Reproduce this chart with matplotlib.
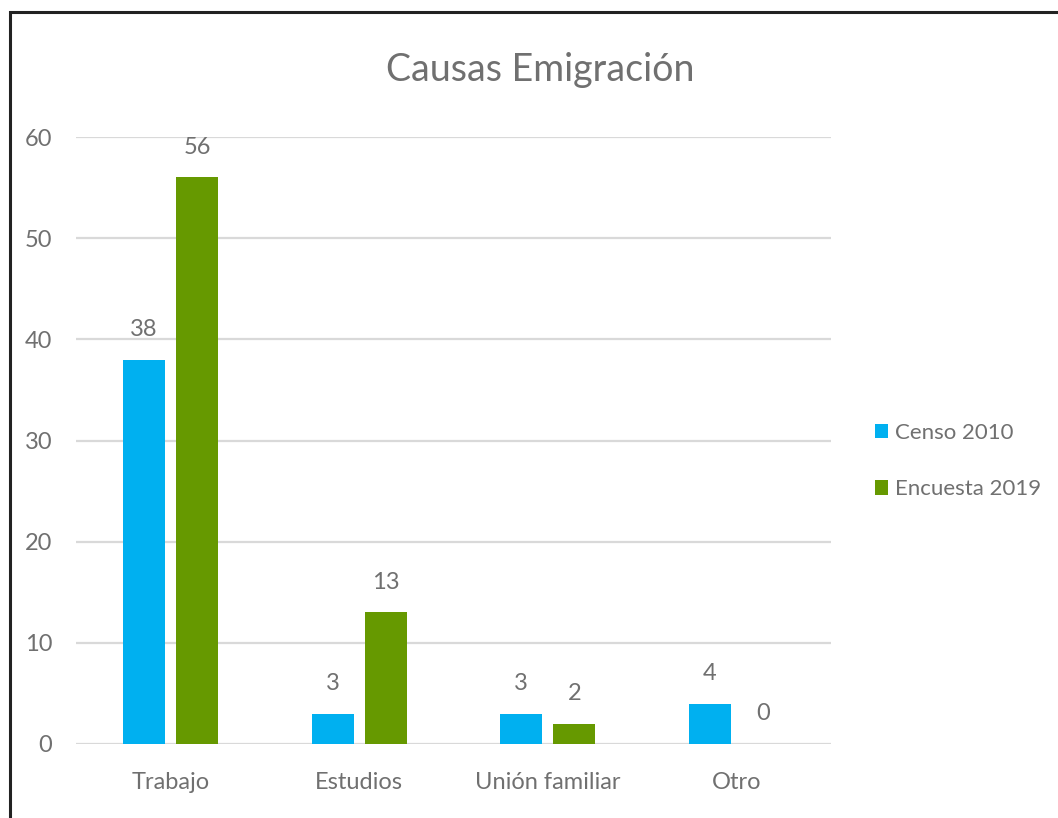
"""
Causas de emigración: Censo 2010 vs Encuesta 2019.
"""

import numpy as np
import matplotlib
matplotlib.use('Agg')
import matplotlib.pyplot as plt
from matplotlib.patches import Rectangle

categories = ['Trabajo', 'Estudios', 'Unión familiar', 'Otro']
censo_2010 = [38, 3, 3, 4]
encuesta_2019 = [56, 13, 2, 0]
series_names = ['Censo 2010', 'Encuesta 2019']
y_ticks = [0, 10, 20, 30, 40, 50, 60]

COLOR_CENSO = '#00B0F0'
COLOR_ENCUESTA = '#669900'
TEXT_GRAY = '#707070'
GRID_GRAY = '#D9D9D9'

plt.rcParams['font.family'] = ['Lato', 'DejaVu Sans']

fig = plt.figure(figsize=(10.58, 8.18), dpi=100)
ax = fig.add_axes([76 / 1058, 74 / 818, 755 / 1058, 607 / 818])

x = np.arange(len(categories))
width = 0.2225
offset = 0.141

bars1 = ax.bar(x - offset, censo_2010, width, color=COLOR_CENSO, label=series_names[0], zorder=3)
bars2 = ax.bar(x + offset, encuesta_2019, width, color=COLOR_ENCUESTA, label=series_names[1], zorder=3)

# data labels above each bar
for bars, vals in [(bars1, censo_2010), (bars2, encuesta_2019)]:
    for b, v in zip(bars, vals):
        ax.annotate(f'{v}', (b.get_x() + b.get_width() / 2, v),
                    xytext=(0, 17), textcoords='offset points',
                    ha='center', va='baseline', fontsize=17, color=TEXT_GRAY)

ax.set_xlim(-0.5, len(categories) - 0.5)
ax.set_ylim(0, 60)
ax.set_yticks(y_ticks)
ax.set_xticks(x)
ax.set_xticklabels(categories)
ax.tick_params(axis='both', length=0, labelsize=17, colors=TEXT_GRAY)
ax.tick_params(axis='y', pad=17)
ax.tick_params(axis='x', pad=20)
for s in ax.spines.values():
    s.set_visible(False)
ax.grid(True, axis='y', color=GRID_GRAY, linewidth=1.6, zorder=0)
ax.set_axisbelow(True)

fig.text(540 / 1058, 1 - 70 / 818, 'Causas Emigración', ha='center', va='center',
         fontsize=27, color=TEXT_GRAY)

leg = fig.legend(handles=[bars1, bars2], labels=series_names, loc='center left',
                 bbox_to_anchor=(855 / 1058, 1 - 461 / 818), frameon=False,
                 fontsize=16, labelcolor=TEXT_GRAY, handlelength=0.6, handleheight=0.6,
                 handletextpad=0.3, labelspacing=1.65)

# outer frame (runs off the right and bottom edges)
fig.add_artist(Rectangle((9.5 / 1058, -0.05), 1.2, 1 - 12 / 818 + 0.05,
                         transform=fig.transFigure, fill=False,
                         edgecolor='#222222', linewidth=2.2))

plt.savefig('out.png', dpi=100)
plt.close()
